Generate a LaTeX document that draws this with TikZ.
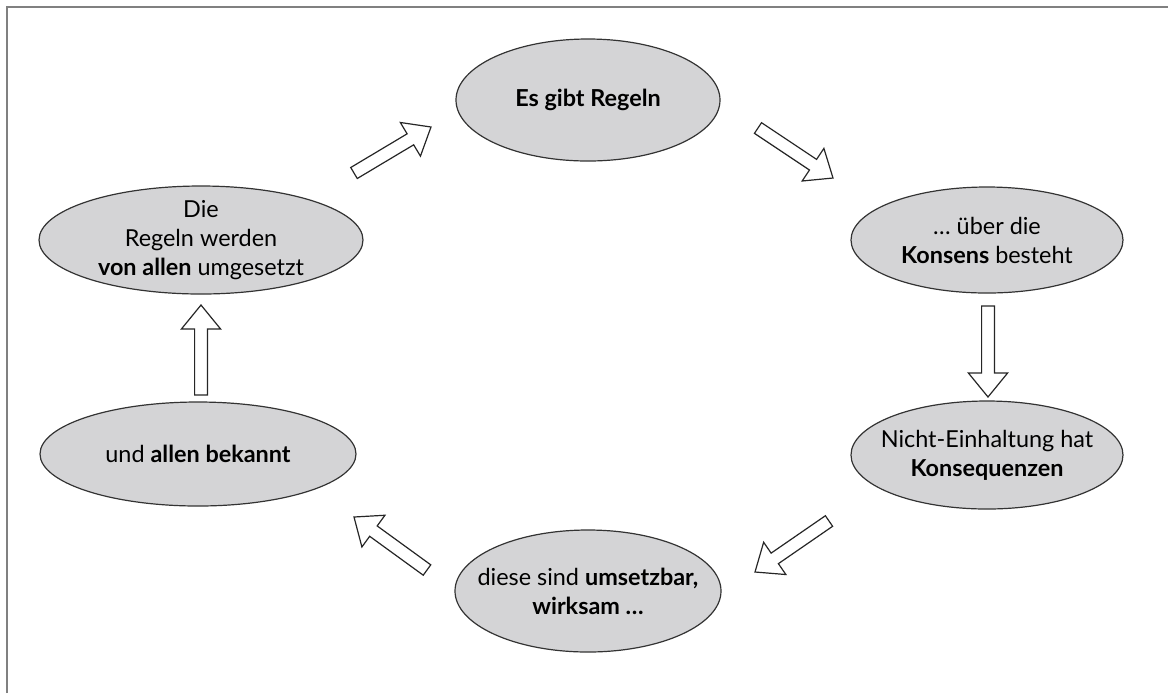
\documentclass[tikz,border=0pt]{standalone}
\usepackage{fontspec}
\setmainfont{Lato}
\usepackage{tikz}
\usetikzlibrary{shapes,positioning,calc}

\definecolor{ellfill}{RGB}{212,212,214}
\definecolor{framegray}{RGB}{128,128,128}

\tikzset{
  cyclebox/.style={ellipse, draw=black!80, line width=0.6pt, fill=ellfill, inner sep=0pt},
  cycletext/.style={align=center, inner sep=0pt, font=\fontsize{11.7}{14.5}\selectfont},
  arrowbody/.style={draw=black!85, line width=0.6pt, fill=white, line join=miter},
}

% hollow block arrow from #1 to #2
\newcommand{\blockarrow}[2]{%
  \coordinate (#1-h) at ($(#2)!12pt!(#1)$);
  \draw[arrowbody] ($(#1)!3.2pt!90:(#2)$) -- ($(#1-h)!3.2pt!-90:(#1)$)
    -- ($(#1-h)!9.8pt!-90:(#1)$) -- (#2) -- ($(#1-h)!9.8pt!90:(#1)$)
    -- ($(#1-h)!3.2pt!90:(#1)$) -- ($(#1)!3.2pt!-90:(#2)$) -- cycle;}

\begin{document}
\begin{tikzpicture}[x=0.5pt, y=-0.5pt]
    \useasboundingbox (0,0) rectangle (1168,693);
    \draw[framegray, line width=1pt] (7,693) -- (7,7) -- (1168,7);

    % the six stages
    \node[cyclebox, minimum width=132pt, minimum height=61pt] (regeln) at (588,100) {};
    \node[cyclebox, minimum width=136pt, minimum height=53pt] (konsens) at (987,240) {};
    \node[cyclebox, minimum width=136pt, minimum height=54pt] (konseq) at (987,455) {};
    \node[cyclebox, minimum width=133pt, minimum height=61pt] (umsetz) at (588,591) {};
    \node[cyclebox, minimum width=158pt, minimum height=52pt] (bekannt) at (198,454) {};
    \node[cyclebox, minimum width=162pt, minimum height=54pt] (umgesetzt) at (201,240) {};

    \node[cycletext] (regeln-t) at (regeln) {\textbf{Es gibt Regeln}};
    \node[cycletext] (konsens-t) at (konsens) {… über die\\\textbf{Konsens} besteht};
    \node[cycletext] (konseq-t) at (konseq) {Nicht-Einhaltung hat\\\textbf{Konsequenzen}};
    \node[cycletext] (umsetz-t) at (umsetz) {diese sind \textbf{umsetzbar,}\\\textbf{wirksam …}};
    \node[cycletext] (bekannt-t) at (bekannt) {und \textbf{allen bekannt}};
    \node[cycletext] (umgesetzt-t) at (umgesetzt) {Die\\Regeln werden\\\textbf{von allen} umgesetzt};

    % arrows between them
    \coordinate (a1s) at (354,173);  \coordinate (a1e) at (431,127);
    \coordinate (a2s) at (758,128);  \coordinate (a2e) at (833,178);
    \coordinate (a3s) at (988,306);  \coordinate (a3e) at (988,397);
    \coordinate (a4s) at (829,521);  \coordinate (a4e) at (755,572);
    \coordinate (a5s) at (427,570);  \coordinate (a5e) at (354,517);
    \coordinate (a6s) at (201,395);  \coordinate (a6e) at (201,305);
    \blockarrow{a1s}{a1e}
    \blockarrow{a2s}{a2e}
    \blockarrow{a3s}{a3e}
    \blockarrow{a4s}{a4e}
    \blockarrow{a5s}{a5e}
    \blockarrow{a6s}{a6e}
\end{tikzpicture}
\end{document}
